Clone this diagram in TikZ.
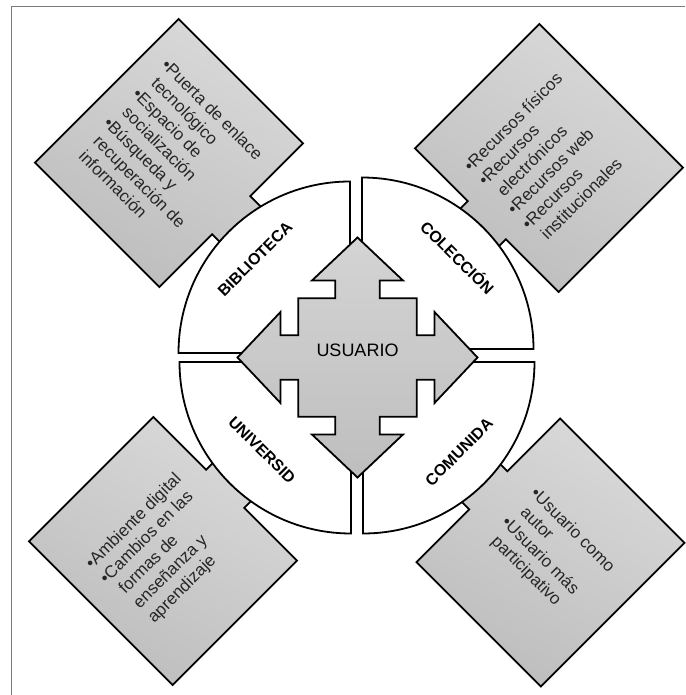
\documentclass[tikz,border=0pt]{standalone}
\usepackage{fontspec}
\setmainfont{Liberation Sans}
\definecolor{framegray}{HTML}{7A7A7A}
\definecolor{boxlight}{HTML}{D9D9D9}
\definecolor{boxdark}{HTML}{BDBDBD}
\definecolor{crosslight}{HTML}{D4D4D4}
\definecolor{crossdark}{HTML}{BEBEBE}
\definecolor{textgray}{HTML}{262626}
\begin{document}
\begin{tikzpicture}[x=1pt,y=1pt,
  frameline/.style={draw=framegray, line width=1.5},
  outline/.style={draw=black, line width=1.8, line join=miter},
  boxfill/.style={outline, top color=boxlight, bottom color=boxdark, shading angle=-30},
  quadrant/.style={outline, fill=white},
  crossfill/.style={outline, top color=crosslight, bottom color=crossdark},
  boxtext/.style={align=left, inner sep=0pt, text=textgray, font=\fontsize{17}{20.5}\selectfont},
  qlabel/.style={inner sep=0pt, font=\bfseries\fontsize{16}{18}\selectfont},
  centerlabel/.style={inner sep=0pt, font=\fontsize{18}{20}\selectfont},
  pics/tabbox/.style={code={
    % rectangle with a short tab on its +x side reaching under the circle
    \path[boxfill] (-88,-101.5) -- (88,-101.5) -- (88,-27) -- (114,-27)
      -- (114,27) -- (88,27) -- (88,101.5) -- (-88,101.5) -- cycle;
  }}]
\useasboundingbox (0,0) rectangle (685,-695);

% page frame (left and top edges only)
\draw[frameline] (11.5,-695) -- (11.5,-6.5) -- (685,-6.5);

% four rotated text boxes
\pic[rotate=-45] at (169,-153) {tabbox};
\pic[rotate=45, xscale=-1] at (549,-158) {tabbox};
\pic[rotate=45] at (163,-551) {tabbox};
\pic[rotate=-45, xscale=-1] at (550.5,-552.5) {tabbox};

% the circle, split into four separated quarters
\def\qr{171.5}
\path[quadrant] (350,-353) -- ++(-\qr,0) arc[start angle=180, end angle=90, radius=\qr] -- cycle;
\path[quadrant] (362,-349) -- ++(0,\qr) arc[start angle=90, end angle=0, radius=\qr] -- cycle;
\path[quadrant] (363,-362) -- ++(\qr,0) arc[start angle=0, end angle=-90, radius=\qr] -- cycle;
\path[quadrant] (351,-362) -- ++(0,-\qr) arc[start angle=270, end angle=180, radius=\qr] -- cycle;

% four-way arrow in the middle
\begin{scope}[shift={(357.5,-357.5)}]
  \def\ta{120}\def\hb{77}\def\hw{45.5}\def\sh{22.3}\def\sq{59.2}
  \path[crossfill] (0,\ta) -- (-\hw,\hb) -- (-\sh,\hb) -- (-\sh,\sq) -- (-\sq,\sq)
    -- (-\sq,\sh) -- (-\hb,\sh) -- (-\hb,\hw) -- (-\ta,0) -- (-\hb,-\hw)
    -- (-\hb,-\sh) -- (-\sq,-\sh) -- (-\sq,-\sq) -- (-\sh,-\sq) -- (-\sh,-\hb)
    -- (-\hw,-\hb) -- (0,-\ta) -- (\hw,-\hb) -- (\sh,-\hb) -- (\sh,-\sq)
    -- (\sq,-\sq) -- (\sq,-\sh) -- (\hb,-\sh) -- (\hb,-\hw) -- (\ta,0)
    -- (\hb,\hw) -- (\hb,\sh) -- (\sq,\sh) -- (\sq,\sq) -- (\sh,\sq)
    -- (\sh,\hb) -- (\hw,\hb) -- cycle;
\end{scope}

% labels
\node[centerlabel] (usuario) at (357.5,-350) {USUARIO};
\node[qlabel, rotate=45] (biblioteca) at (255,-259) {BIBLIOTECA};
\node[qlabel, rotate=-45] (coleccion) at (458,-257) {COLECCIÓN};
\node[qlabel, rotate=-45] (universidad) at (262,-450) {UNIVERSID};
\node[qlabel, rotate=45] (comunidad) at (459,-452) {COMUNIDA};

% box contents
\node[boxtext, rotate=-45] (bibtext) at (169,-153)
  {•Puerta de enlace\\\hphantom{•}tecnológico\\•Espacio de\\\hphantom{•}socialización\\•Búsqueda y\\\hphantom{•}recuperación de\\\hphantom{•}información};
\node[boxtext, rotate=45] (coltext) at (549,-158)
  {•Recursos físicos\\•Recursos\\\hphantom{•}electrónicos\\•Recursos web\\•Recursos\\\hphantom{•}institucionales};
\node[boxtext, rotate=45] (unitext) at (163,-551)
  {•Ambiente digital\\•Cambios en las\\\hphantom{•}formas de\\\hphantom{•}enseñanza y\\\hphantom{•}aprendizaje};
\node[boxtext, rotate=-45] (comtext) at (550.5,-552.5)
  {•Usuario como\\\hphantom{•}autor\\•Usuario más\\\hphantom{•}participativo};
\end{tikzpicture}
\end{document}
